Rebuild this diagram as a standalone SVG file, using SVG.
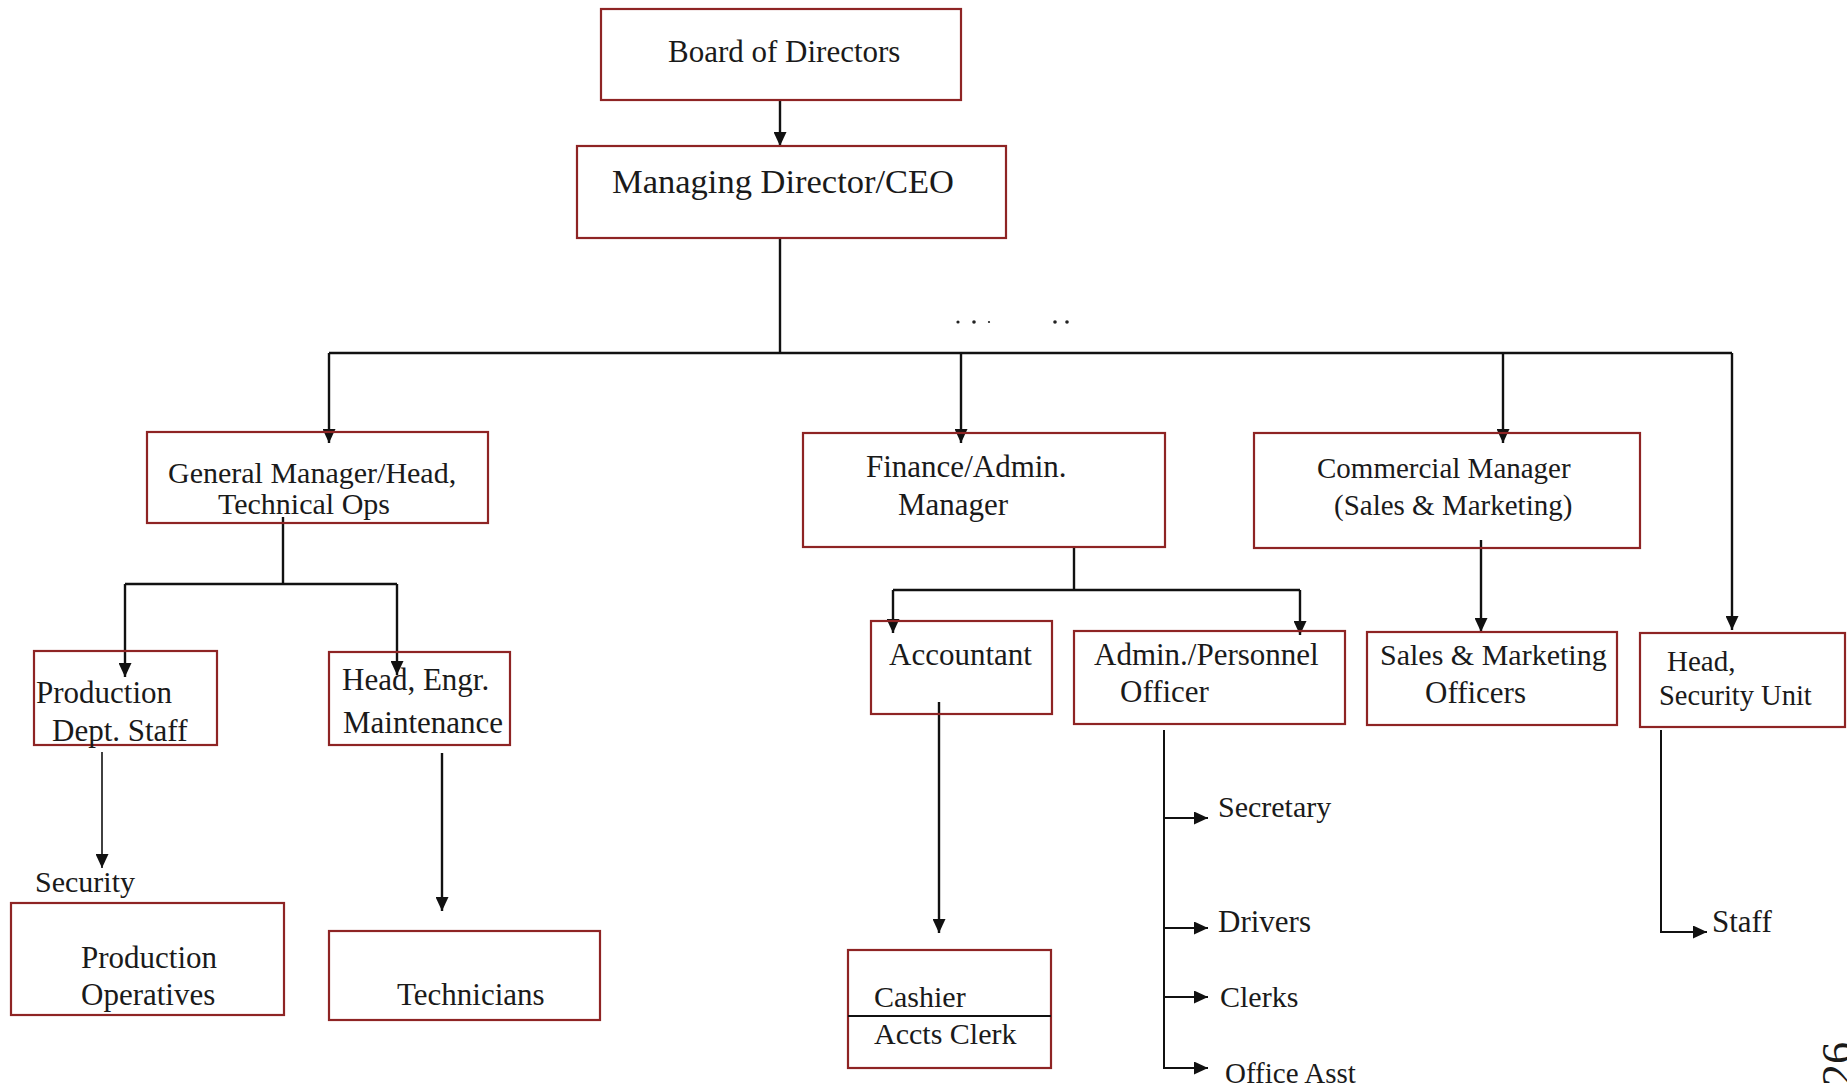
<svg xmlns="http://www.w3.org/2000/svg" width="1847" height="1088" viewBox="0 0 1847 1088">
<style>
.box{fill:none;stroke:#8e2424;stroke-width:2.2}
.t{font-family:"Liberation Serif","Times New Roman",serif;font-size:31px;fill:#1a1a1a}
.c{fill:none;stroke:#111;stroke-width:2.4}
.thin{stroke-width:1.6}
.mid{stroke-width:2}
</style>
<defs>
<marker id="ah" viewBox="0 0 14 13" refX="14" refY="6.5" markerWidth="14" markerHeight="13" markerUnits="userSpaceOnUse" orient="auto">
<path d="M0,0 L14,6.5 L0,13 Z" fill="#111"/>
</marker>
</defs>
<rect width="1847" height="1088" fill="#fff"/>

<g id="connectors">
<path class="c" d="M780,100 V146" marker-end="url(#ah)"/>
<path class="c" d="M780,238 V353"/>
<path class="c" d="M329,353 H1732"/>
<path class="c" d="M329,353 V443" marker-end="url(#ah)"/>
<path class="c" d="M961,353 V443" marker-end="url(#ah)"/>
<path class="c" d="M1503,353 V443" marker-end="url(#ah)"/>
<path class="c" d="M1732,353 V630" marker-end="url(#ah)"/>
<path class="c" d="M283,517 V584"/>
<path class="c" d="M125,584 H397"/>
<path class="c" d="M125,584 V677" marker-end="url(#ah)"/>
<path class="c" d="M397,584 V675" marker-end="url(#ah)"/>
<path class="c thin" d="M102,752 V868" marker-end="url(#ah)"/>
<path class="c" d="M442,753 V911" marker-end="url(#ah)"/>
<path class="c" d="M1074,548 V590"/>
<path class="c" d="M893,590 H1300"/>
<path class="c" d="M893,590 V633" marker-end="url(#ah)"/>
<path class="c" d="M1300,590 V635" marker-end="url(#ah)"/>
<path class="c" d="M939,702 V933" marker-end="url(#ah)"/>
<path class="c" d="M1481,540 V632" marker-end="url(#ah)"/>
<path class="c mid" d="M1164,730 V1068 H1208" marker-end="url(#ah)"/>
<path class="c mid" d="M1164,818 H1208" marker-end="url(#ah)"/>
<path class="c mid" d="M1164,928 H1208" marker-end="url(#ah)"/>
<path class="c mid" d="M1164,997 H1208" marker-end="url(#ah)"/>
<path class="c mid" d="M1661,730 V932 H1707" marker-end="url(#ah)"/>
</g>

<g id="dots" fill="#222">
<circle cx="958" cy="322" r="1.6"/>
<circle cx="974" cy="322" r="1.8"/>
<circle cx="989" cy="322" r="1.1"/>
<circle cx="1055" cy="322" r="1.8"/>
<circle cx="1067" cy="322" r="1.8"/>
</g>

<g id="board"><rect class="box" x="601" y="9" width="360" height="91"/><text class="t" x="668" y="62">Board of Directors</text></g>
<g id="md"><rect class="box" x="577" y="146" width="429" height="92"/><text class="t" x="612" y="193" style="font-size:34.5px">Managing Director/CEO</text></g>
<g id="gm"><rect class="box" x="147" y="432" width="341" height="91"/><text class="t" x="168" y="483" style="font-size:30px">General Manager/Head,</text><text class="t" x="218" y="514" style="font-size:30px">Technical Ops</text></g>
<g id="prod-staff"><rect class="box" x="34" y="651" width="183" height="94"/><text class="t" x="36" y="703">Production</text><text class="t" x="52" y="741">Dept. Staff</text></g>
<g id="head-engr"><rect class="box" x="329" y="652" width="181" height="93"/><text class="t" x="342" y="690">Head, Engr.</text><text class="t" x="343" y="733">Maintenance</text></g>
<g id="security"><text class="t" x="35" y="892" style="font-size:30px">Security</text></g>
<g id="prod-ops"><rect class="box" x="11" y="903" width="273" height="112"/><text class="t" x="81" y="968">Production</text><text class="t" x="81" y="1005">Operatives</text></g>
<g id="technicians"><rect class="box" x="329" y="931" width="271" height="89"/><text class="t" x="397" y="1005">Technicians</text></g>
<g id="finance"><rect class="box" x="803" y="433" width="362" height="114"/><text class="t" x="866" y="477">Finance/Admin.</text><text class="t" x="898" y="515">Manager</text></g>
<g id="accountant"><rect class="box" x="871" y="621" width="181" height="93"/><text class="t" x="889" y="665">Accountant</text></g>
<g id="admin"><rect class="box" x="1074" y="631" width="271" height="93"/><text class="t" x="1094" y="665">Admin./Personnel</text><text class="t" x="1120" y="702">Officer</text></g>
<g id="commercial"><rect class="box" x="1254" y="433" width="386" height="115"/><text class="t" x="1317" y="478" style="font-size:29px">Commercial Manager</text><text class="t" x="1334" y="515" style="font-size:29px">(Sales &amp; Marketing)</text></g>
<g id="sales"><rect class="box" x="1367" y="632" width="250" height="93"/><text class="t" x="1380" y="665" style="font-size:30px">Sales &amp; Marketing</text><text class="t" x="1425" y="703">Officers</text></g>
<g id="head-security"><rect class="box" x="1640" y="633" width="205" height="94"/><text class="t" x="1667" y="671" style="font-size:29px">Head,</text><text class="t" x="1659" y="705" style="font-size:28.5px">Security Unit</text></g>
<g id="staff"><text class="t" x="1712" y="932">Staff</text></g>
<g id="secretary"><text class="t" x="1218" y="817" style="font-size:30px">Secretary</text></g>
<g id="drivers"><text class="t" x="1218" y="932">Drivers</text></g>
<g id="clerks"><text class="t" x="1220" y="1007" style="font-size:30px">Clerks</text></g>
<g id="office-asst"><text class="t" x="1225" y="1083" style="font-size:29px">Office Asst</text></g>
<g id="cashier"><rect class="box" x="848" y="950" width="203" height="118"/><line x1="848" y1="1016" x2="1051" y2="1016" stroke="#111" stroke-width="2.2"/><text class="t" x="874" y="1007" style="font-size:30px">Cashier</text><text class="t" x="874" y="1044" style="font-size:30px">Accts Clerk</text></g>
<g id="page-number"><text class="t" transform="translate(1852,1086) rotate(-90)" style="font-size:44px">26</text></g>
</svg>
